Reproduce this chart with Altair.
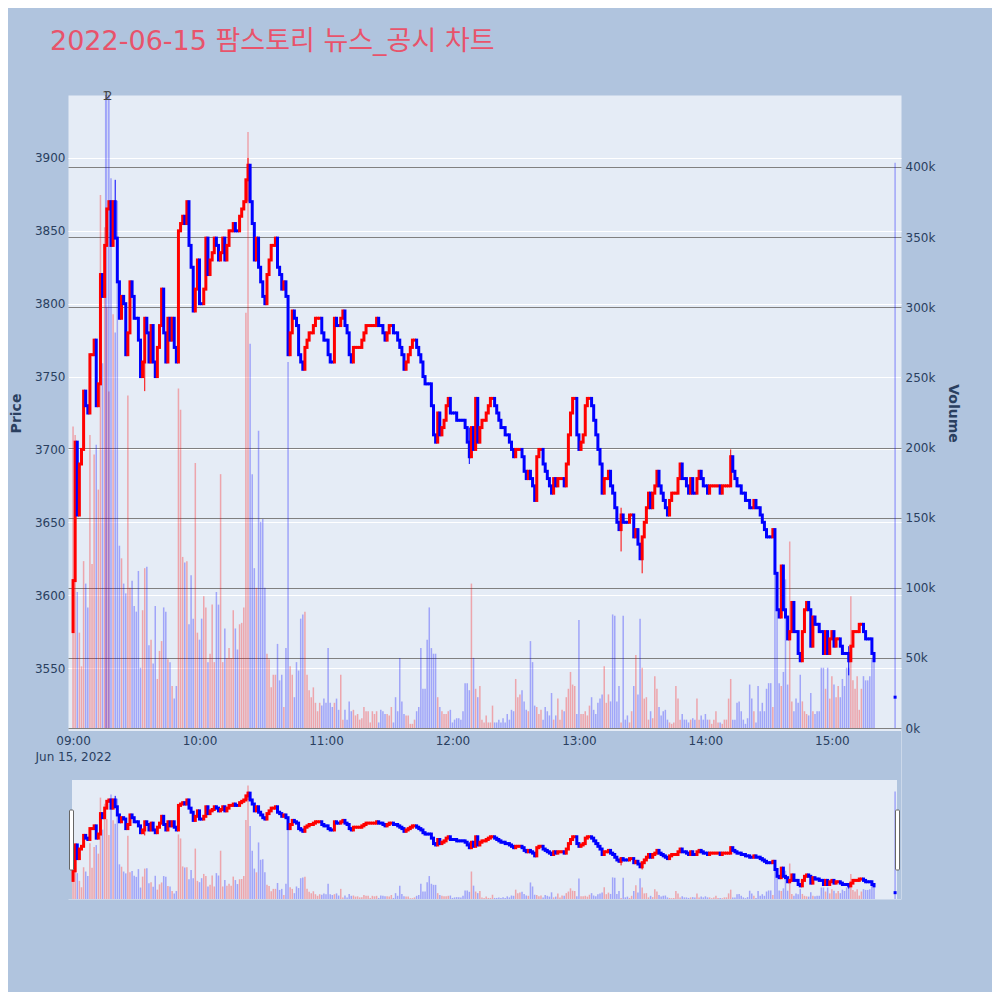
import altair as alt
import pandas as pd

title_text = "2022-06-15 팜스토리 뉴스_공시 차트"
date_label = "Jun 15, 2022"

# ---- 1-minute closes (KRW), open of each candle = previous close ----
first_open = 3575
close_0900 = [3610, 3705, 3655, 3690, 3700, 3740, 3730, 3725, 3765, 3765,
              3775, 3730, 3745, 3820, 3805, 3840, 3865, 3870, 3840, 3870,
              3845, 3815, 3790, 3805, 3800, 3765, 3780, 3815, 3805, 3790,
              3790, 3775, 3750, 3760, 3790, 3780, 3760, 3785, 3760, 3750,
              3770, 3785, 3810, 3780, 3760, 3790, 3775, 3790, 3770, 3760,
              3850, 3855, 3860, 3855, 3870, 3840, 3825, 3795, 3810, 3830]
close_1000 = [3800, 3800, 3810, 3845, 3820, 3830, 3835, 3845, 3840, 3830,
              3835, 3845, 3830, 3840, 3850, 3850, 3855, 3850, 3850, 3860,
              3865, 3870, 3885, 3895, 3870, 3855, 3830, 3845, 3825, 3815,
              3805, 3800, 3820, 3830, 3840, 3840, 3845, 3825, 3820, 3810,
              3815, 3805, 3765, 3780, 3795, 3790, 3785, 3765, 3760, 3755,
              3770, 3775, 3780, 3780, 3785, 3790, 3790, 3790, 3780, 3775]
close_1100 = [3775, 3765, 3760, 3760, 3790, 3785, 3785, 3790, 3795, 3785,
              3780, 3765, 3760, 3770, 3770, 3770, 3770, 3775, 3780, 3785,
              3785, 3785, 3785, 3785, 3790, 3785, 3785, 3780, 3775, 3780,
              3785, 3785, 3780, 3780, 3775, 3770, 3765, 3755, 3760, 3765,
              3770, 3775, 3775, 3770, 3765, 3760, 3750, 3745, 3745, 3745,
              3730, 3710, 3705, 3725, 3710, 3715, 3720, 3730, 3735, 3725]
close_1200 = [3725, 3725, 3720, 3720, 3720, 3720, 3715, 3705, 3695, 3715,
              3700, 3735, 3705, 3715, 3720, 3720, 3725, 3730, 3735, 3735,
              3730, 3725, 3720, 3715, 3715, 3710, 3710, 3705, 3700, 3695,
              3700, 3700, 3700, 3695, 3685, 3680, 3685, 3680, 3675, 3665,
              3695, 3700, 3700, 3690, 3685, 3680, 3675, 3670, 3680, 3675,
              3680, 3680, 3680, 3675, 3690, 3710, 3725, 3735, 3735, 3710]
close_1300 = [3700, 3705, 3710, 3730, 3735, 3735, 3730, 3720, 3710, 3700,
              3690, 3670, 3680, 3680, 3685, 3675, 3670, 3660, 3650, 3645,
              3655, 3650, 3650, 3650, 3655, 3655, 3640, 3645, 3635, 3625,
              3640, 3650, 3660, 3670, 3660, 3670, 3675, 3685, 3675, 3670,
              3665, 3660, 3655, 3665, 3670, 3670, 3670, 3680, 3690, 3680,
              3680, 3675, 3670, 3680, 3670, 3670, 3680, 3685, 3680, 3675]
close_1400 = [3675, 3670, 3675, 3675, 3675, 3675, 3675, 3670, 3675, 3675,
              3675, 3675, 3695, 3685, 3680, 3675, 3675, 3670, 3670, 3665,
              3665, 3660, 3660, 3665, 3660, 3660, 3655, 3650, 3645, 3640,
              3640, 3640, 3645, 3615, 3590, 3585, 3620, 3590, 3585, 3570,
              3575, 3595, 3575, 3575, 3560, 3555, 3575, 3590, 3595, 3590,
              3565, 3585, 3580, 3580, 3575, 3575, 3560, 3575, 3560, 3570]
close_1500 = [3575, 3565, 3570, 3570, 3565, 3560, 3560, 3560, 3555, 3565,
              3575, 3575, 3575, 3580, 3580, 3575, 3570, 3570, 3570, 3560,
              3555]

# ---- 1-minute volume (thousand shares) ----
vol_0900 = [215, 209, 97, 68, 44, 119, 103, 86, 209, 117,
            195, 202, 170, 380, 260, 357, 300, 240, 392, 295,
            282, 376, 130, 121, 103, 96, 237, 100, 105, 87,
            83, 112, 43, 84, 114, 115, 59, 63, 46, 87,
            35, 55, 62, 86, 83, 49, 47, 30, 21, 30,
            242, 227, 122, 118, 119, 74, 109, 78, 189, 68]
vol_1000 = [63, 78, 94, 86, 47, 53, 88, 47, 97, 88,
            181, 47, 71, 50, 57, 50, 84, 71, 56, 74,
            75, 86, 296, 425, 274, 181, 114, 100, 212, 147,
            149, 100, 53, 49, 29, 38, 38, 60, 34, 38,
            15, 57, 261, 44, 38, 22, 47, 41, 78, 81,
            83, 38, 27, 22, 29, 18, 12, 18, 16, 21]
vol_1100 = [18, 57, 18, 15, 18, 21, 13, 38, 6, 13,
            6, 19, 12, 13, 9, 10, 6, 7, 15, 12,
            12, 4, 12, 10, 12, 4, 13, 12, 10, 10,
            9, 15, 4, 22, 12, 50, 19, 10, 9, 9,
            3, 3, 6, 12, 15, 57, 28, 28, 63, 86,
            57, 53, 53, 22, 15, 12, 10, 10, 12, 13]
vol_1200 = [4, 6, 7, 7, 6, 12, 32, 32, 27, 103,
            50, 28, 22, 30, 6, 4, 9, 4, 4, 16,
            4, 4, 6, 4, 7, 4, 10, 6, 13, 12,
            35, 22, 24, 27, 19, 13, 12, 62, 47, 16,
            15, 10, 13, 6, 15, 12, 9, 25, 6, 9,
            21, 6, 13, 12, 22, 28, 40, 31, 30, 10]
vol_1300 = [77, 10, 10, 12, 9, 16, 22, 13, 10, 18,
            21, 24, 44, 18, 24, 19, 81, 80, 19, 30,
            4, 80, 6, 9, 4, 12, 30, 52, 24, 78,
            43, 21, 22, 6, 12, 7, 37, 28, 15, 9,
            12, 13, 6, 4, 3, 4, 30, 21, 6, 10,
            6, 6, 4, 6, 7, 6, 21, 6, 9, 6]
vol_1400 = [10, 6, 6, 3, 6, 12, 4, 4, 3, 6,
            6, 21, 35, 6, 6, 18, 19, 12, 6, 3,
            7, 31, 21, 12, 4, 30, 12, 18, 12, 28,
            32, 32, 15, 110, 108, 32, 30, 40, 106, 31,
            133, 19, 12, 21, 18, 38, 19, 12, 10, 9,
            25, 12, 10, 12, 12, 43, 43, 28, 43, 21]
vol_1500 = [37, 31, 22, 30, 22, 35, 30, 43, 43, 94,
            34, 28, 37, 13, 28, 37, 34, 34, 37, 49,
            49]

# closing auction (15:30)
auction_minute = 390
auction_price = 3530
auction_volume_k = 403

# visible wicks beyond the bodies
wick_minutes = [20, 34, 83, 188, 260, 270, 312, 368]
wick_high = [3885, 3790, 3900, 3715, 3660, 3640, 3700, 3565]
wick_low = [3845, 3740, 3870, 3690, 3630, 3615, 3675, 3545]

# news / disclosure markers
news_minutes = [15.6, 16.9]
news_labels = ["1", "2"]

hour_ticks = [0, 60, 120, 180, 240, 300, 360]
price_ticks = [3550, 3600, 3650, 3700, 3750, 3800, 3850, 3900]
volume_ticks = [0, 50000, 100000, 150000, 200000, 250000, 300000, 350000, 400000]

# ---------------- build table ----------------
closes = close_0900 + close_1000 + close_1100 + close_1200 + close_1300 + close_1400 + close_1500
vols = vol_0900 + vol_1000 + vol_1100 + vol_1200 + vol_1300 + vol_1400 + vol_1500
wick_map = {m: (h, l) for m, h, l in zip(wick_minutes, wick_high, wick_low)}

records = []
prev_close, prev_dir = first_open, "up"
for m, (c, v) in enumerate(zip(closes, vols)):
    o = prev_close
    d = "up" if c > o else ("down" if c < o else prev_dir)
    hi, lo = max(o, c), min(o, c)
    if m in wick_map:
        hi, lo = max(hi, wick_map[m][0]), min(lo, wick_map[m][1])
    records.append(dict(m=m, open=o, close=c, high=hi, low=lo, vol=v * 1000, dir=d,
                        x0=m - 0.36, x1=m + 0.36))
    prev_close, prev_dir = c, d
records.append(dict(m=auction_minute, open=auction_price, close=auction_price,
                    high=auction_price, low=auction_price, vol=auction_volume_k * 1000,
                    dir="down", x0=auction_minute - 0.36, x1=auction_minute + 0.36))
df = pd.DataFrame(records)
news_df = pd.DataFrame({"m": news_minutes, "label": news_labels})
one = pd.DataFrame({"k": [0]})

# ---------------- geometry ----------------
W, H = 833, 804
MAIN_H = 636
SL_TOP, SL_BOT = 685, 804
BG = "#B0C4DE"
PLOT_BG = "#E5ECF6"
FONT = "DejaVu Sans"
TXT = "#2a3f5f"

xscale = alt.Scale(domain=[-2.4, 392.8], nice=False, zero=False)
xaxis = alt.Axis(values=hour_ticks,
                 labelExpr="datum.value == 0 ? ['09:00', '" + date_label + "'] : (9 + datum.value / 60) + ':00'",
                 grid=False, ticks=False, domain=False, offset=-(H - MAIN_H), labelPadding=4,
                 labelLineHeight=16, labelFlush=False, labelOverlap=False, zindex=1,
                 labelColor=TXT, labelFont=FONT, labelFontSize=12)


def X(field):
    return alt.X(field + ":Q", scale=xscale, axis=xaxis, title=None)


color = alt.Color("dir:N", scale=alt.Scale(domain=["up", "down"], range=["#FF0000", "#0000FF"]), legend=None)

ps_main = alt.Scale(domain=[3506.8, 3943.2], range=[MAIN_H, 0], nice=False, zero=False)
vs_main = alt.Scale(domain=[-2100, 451300], range=[MAIN_H, 0], nice=False, zero=False)
ps_sl = alt.Scale(domain=[3506.8, 3943.2], range=[SL_BOT, SL_TOP], nice=False, zero=False)
vs_sl = alt.Scale(domain=[0, 446000], range=[SL_BOT, SL_TOP], nice=False, zero=False)

price_axis = alt.Axis(orient="left", values=price_ticks, format="d", grid=True, gridColor="white", gridWidth=1,
                      ticks=False, domain=False, title="Price", titleFontWeight="bold", titleFontSize=14,
                      titlePadding=11, labelPadding=3, labelColor=TXT, titleColor=TXT,
                      labelFont=FONT, titleFont=FONT, labelFontSize=12)
vol_axis = alt.Axis(orient="right", values=volume_ticks, format="~s", grid=True, gridColor="gray",
                    gridWidth=1, ticks=False, domain=False, title="Volume", titleFontWeight="bold",
                    titleFontSize=14, titlePadding=11, labelPadding=4, labelColor=TXT, titleColor=TXT,
                    labelFont=FONT, titleFont=FONT, labelFontSize=12)

base = alt.Chart(df)

# backdrop pieces (paper colour between main plot and range slider)
gap = alt.Chart(one).mark_rect(color=BG).encode(
    x=alt.value(0), x2=alt.value(W), y=alt.value(MAIN_H), y2=alt.value(SL_TOP))
side_l = alt.Chart(one).mark_rect(color=BG).encode(
    x=alt.value(0), x2=alt.value(4), y=alt.value(SL_TOP), y2=alt.value(SL_BOT))
side_r = alt.Chart(one).mark_rect(color=BG).encode(
    x=alt.value(829), x2=alt.value(W), y=alt.value(SL_TOP), y2=alt.value(SL_BOT))

# main volume
vol_main = base.mark_bar(opacity=0.3).encode(
    x=X("x0"), x2="x1:Q",
    y=alt.Y("vol:Q", scale=vs_main, axis=vol_axis), y2=alt.datum(0), color=color)

# news lines
news_lines = alt.Chart(news_df).mark_rule(color="#0000FF", opacity=0.3, strokeWidth=2).encode(
    x=X("m"), y=alt.value(0), y2=alt.value(MAIN_H - 3))

# main candles
wick_main = base.mark_rule(strokeWidth=1).encode(
    x=X("m"), y=alt.Y("low:Q", scale=ps_main, axis=price_axis), y2="high:Q", color=color)
body_main = base.mark_rule(strokeWidth=3, strokeCap="square").encode(
    x=X("m"), y=alt.Y("open:Q", scale=ps_main, axis=price_axis), y2="close:Q", color=color)
main_price = alt.layer(wick_main, body_main)

# range slider
vol_sl = base.mark_bar(opacity=0.3).encode(
    x=X("x0"), x2="x1:Q", y=alt.Y("vol:Q", scale=vs_sl, axis=None), y2=alt.datum(0), color=color)
wick_sl = base.mark_rule(strokeWidth=1).encode(
    x=X("m"), y=alt.Y("low:Q", scale=ps_sl, axis=None), y2="high:Q", color=color)
body_sl = base.mark_rule(strokeWidth=3, strokeCap="square").encode(
    x=X("m"), y=alt.Y("open:Q", scale=ps_sl, axis=None), y2="close:Q", color=color)
slider_price = alt.layer(wick_sl, body_sl)

handle_l = alt.Chart(one).mark_rect(fill="white", stroke="#666666", strokeWidth=1, cornerRadius=1).encode(
    x=alt.value(1.5), x2=alt.value(5.5), y=alt.value(715), y2=alt.value(775))
handle_r = alt.Chart(one).mark_rect(fill="white", stroke="#666666", strokeWidth=1, cornerRadius=1).encode(
    x=alt.value(827.5), x2=alt.value(831.5), y=alt.value(715), y2=alt.value(775))

news_text = alt.Chart(news_df).mark_text(fontSize=12, color="#444444", baseline="middle", font=FONT).encode(
    x=X("m"), y=alt.value(1), text="label:N")

chart = alt.layer(
    gap, side_l, side_r, vol_main, news_lines, main_price, vol_sl, slider_price,
    handle_l, handle_r, news_text
).resolve_scale(y="independent").properties(
    width=W, height=H,
    padding={"left": 60, "top": 87, "right": 91, "bottom": 93},
    autosize=alt.AutoSizeParams(type="none"),
    background=BG,
    title=alt.TitleParams(text=title_text, anchor="start", frame="group", dx=-18, offset=13,
                          baseline="alphabetic", fontSize=27, fontWeight="normal", color="#E8536B",
                          font="DejaVu Sans, Noto Sans CJK KR"),
).configure_view(fill=PLOT_BG, strokeOpacity=0)

chart.save("out.html", embed_options={"renderer": "svg", "actions": False})
